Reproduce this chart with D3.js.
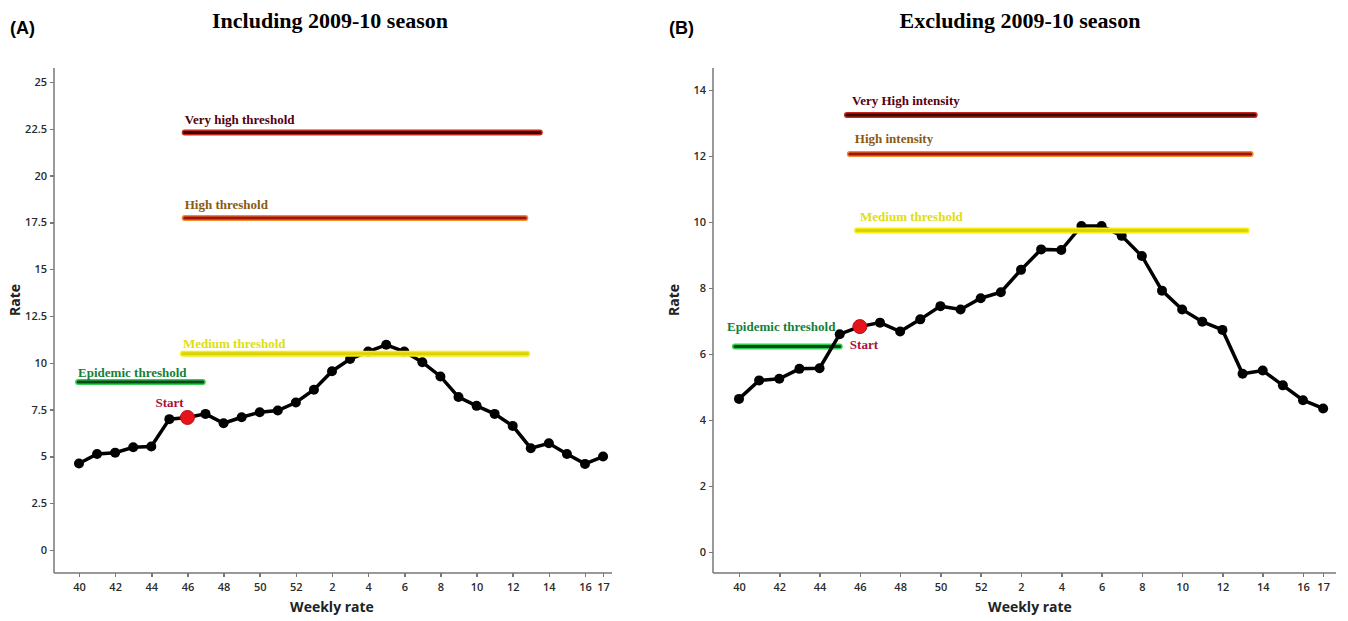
<!DOCTYPE html>
<html>
<head>
    <meta charset="utf-8">
    <title>Weekly rate thresholds</title>
    <script src="https://cdn.jsdelivr.net/npm/d3@7"></script>
    <style>
        body { margin: 0; background: #fff; }
        .axis line { stroke: #777; stroke-width: 1.5; shape-rendering: crispEdges; }
        .axis text { font: 600 11px "Open Sans", sans-serif; fill: #2a2a2a; }
        .ttl { font: bold 22px "Liberation Serif", serif; text-anchor: middle; }
        .tag { font: bold 18px "Liberation Sans", Arial, sans-serif; }
        .lab { font: bold 14px "Open Sans", sans-serif; text-anchor: middle; fill: #222; }
        .thr { font: bold 13px "Liberation Serif", serif; }
    </style>
</head>
<body>
<div id="chart"></div>
<script>
// week labels along the season (index 0..29)
const weeks = [40,41,42,43,44,45,46,47,48,49,50,51,52,1,2,3,4,5,6,7,8,9,10,11,12,13,14,15,16,17];
const tickWeeks = [40,42,44,46,48,50,52,2,4,6,8,10,12,14,16,17];

// (A) including 2009-10 season
const rateIncl = [4.62,5.13,5.2,5.49,5.53,6.99,7.08,7.27,6.77,7.09,7.36,7.45,7.88,8.56,9.55,10.2,10.6,10.96,10.6,10.03,9.27,8.17,7.7,7.27,6.63,5.44,5.7,5.13,4.6,4.99];
const yTicksA = [0,2.5,5,7.5,10,12.5,15,17.5,20,22.5,25];
// name, value, start index, end index
const thrNamesA = ["Very high threshold","High threshold","Medium threshold","Epidemic threshold"];
const thrValuesA = [22.3,17.74,10.48,8.97];
const thrStartA = [5.85,5.85,5.75,-0.05];
const thrEndA = [25.5,24.7,24.8,6.85];

// (B) excluding 2009-10 season
const rateExcl = [4.64,5.2,5.25,5.55,5.57,6.6,6.83,6.95,6.68,7.05,7.45,7.35,7.69,7.87,8.55,9.17,9.15,9.88,9.88,9.58,8.97,7.92,7.35,6.98,6.73,5.4,5.5,5.05,4.6,4.35];
const yTicksB = [0,2,4,6,8,10,12,14];
const thrNamesB = ["Very High intensity","High intensity","Medium threshold","Epidemic threshold"];
const thrValuesB = [13.24,12.06,9.74,6.23];
const thrStartB = [5.36,5.5,5.86,-0.2];
const thrEndB = [25.6,25.4,25.2,5.0];

const startIndex = 6; // week 46

const svg = d3.select("#chart").append("svg").attr("width", 1348).attr("height", 621);

// styles for the four thresholds
const thrStyle = [
    { outer: "#c4281c", inner: "#3a0606", text: "#55000f", top: false },
    { outer: "#f08a2a", inner: "#a31010", text: "#8a5a12", top: false },
    { outer: "#f7ee10", inner: "#dcd20c", text: "#dede10", top: true },
    { outer: "#2fcf52", inner: "#0b4a18", text: "#14803a", top: false }
];

const axisTop = 68, axisBottom = 573;

function panel(o) {
    const x = d3.scaleLinear().domain([0, 28]).range([o.x0, o.x28]);
    const y = d3.scaleLinear().domain(o.yDom).range(o.yRange);
    const g = svg.append("g");

    g.append("text").attr("class", "tag").attr("x", o.tagX).attr("y", 34).text(o.tag);
    g.append("text").attr("class", "ttl").attr("x", o.titleX).attr("y", 28).text(o.title);

    g.append("g").attr("class", "axis")
        .attr("transform", `translate(${o.axisX},0)`)
        .call(d3.axisLeft(y).tickValues(o.yTicks).tickSize(4).tickSizeOuter(0).tickFormat(d3.format("")));
    g.append("g").attr("class", "axis")
        .attr("transform", `translate(0,${axisBottom})`)
        .call(d3.axisBottom(x)
            .tickValues(tickWeeks.map(w => weeks.indexOf(w)))
            .tickFormat(i => weeks[i]).tickSize(4).tickSizeOuter(0).tickPadding(6));
    // axis lines run to the panel edges
    g.selectAll(".axis .domain").remove();
    g.append("line").attr("x1", o.axisX).attr("x2", o.axisX).attr("y1", axisTop).attr("y2", axisBottom)
        .attr("stroke", "#777").attr("stroke-width", 1.5);
    g.append("line").attr("x1", o.axisX).attr("x2", o.xEnd).attr("y1", axisBottom).attr("y2", axisBottom)
        .attr("stroke", "#777").attr("stroke-width", 1.5);

    g.append("text").attr("class", "lab")
        .attr("transform", `translate(${o.axisX - 34},${o.rateY}) rotate(-90)`).text("Rate");
    g.append("text").attr("class", "lab").attr("x", o.xLabX).attr("y", 612).text("Weekly rate");

    const under = g.append("g"), series = g.append("g"), over = g.append("g");

    // threshold lines (medium one sits above the series)
    o.names.forEach((n, k) => {
        const st = thrStyle[k];
        const layer = st.top ? over : under;
        const yy = y(o.values[k]);
        layer.append("line").attr("x1", x(o.starts[k])).attr("x2", x(o.ends[k]))
            .attr("y1", yy).attr("y2", yy).attr("stroke", st.outer).attr("stroke-width", 6)
            .attr("stroke-linecap", "round");
        layer.append("line").attr("x1", x(o.starts[k])).attr("x2", x(o.ends[k]))
            .attr("y1", yy).attr("y2", yy).attr("stroke", st.inner).attr("stroke-width", 3)
            .attr("stroke-linecap", "round");
        layer.append("text").attr("class", "thr")
            .attr("x", x(o.starts[k]) + o.labDx[k]).attr("y", yy - o.labDy[k])
            .attr("fill", st.text).text(n);
    });

    // weekly series
    const line = d3.line().x((d, i) => x(i)).y(d => y(d));
    series.append("path").datum(o.rates).attr("d", line)
        .attr("fill", "none").attr("stroke", "#000").attr("stroke-width", 3.5);
    series.selectAll(".pt").data(o.rates).enter().append("circle")
        .attr("cx", (d, i) => x(i)).attr("cy", d => y(d)).attr("r", 5).attr("fill", "#000");
    series.append("circle").attr("cx", x(startIndex)).attr("cy", y(o.rates[startIndex]))
        .attr("r", 7).attr("fill", "#e8141c").attr("stroke", "#b01015").attr("stroke-width", 1);
    series.append("text").attr("class", "thr").attr("fill", "#a8103c")
        .attr("x", x(startIndex) + o.startDx).attr("y", y(o.rates[startIndex]) + o.startDy)
        .text("Start");
}

panel({
    tag: "(A)", tagX: 10, title: "Including 2009-10 season", titleX: 330,
    x0: 79, x28: 585, axisX: 54, xEnd: 612,
    yDom: [0, 25], yRange: [550, 82], yTicks: yTicksA,
    rates: rateIncl, names: thrNamesA, values: thrValuesA, starts: thrStartA, ends: thrEndA,
    labDx: [0, 0, 0, 0], labDy: [9, 9, 6, 5],
    startDx: -32, startDy: -10, rateY: 300, xLabX: 332
});

panel({
    tag: "(B)", tagX: 669, title: "Excluding 2009-10 season", titleX: 1020,
    x0: 739, x28: 1303, axisX: 713, xEnd: 1336,
    yDom: [0, 14], yRange: [552, 90], yTicks: yTicksB,
    rates: rateExcl, names: thrNamesB, values: thrValuesB, starts: thrStartB, ends: thrEndB,
    labDx: [5, 5, 3, -8], labDy: [10, 11, 10, 15],
    startDx: -10, startDy: 22, rateY: 300, xLabX: 1030
});
</script>
</body>
</html>
